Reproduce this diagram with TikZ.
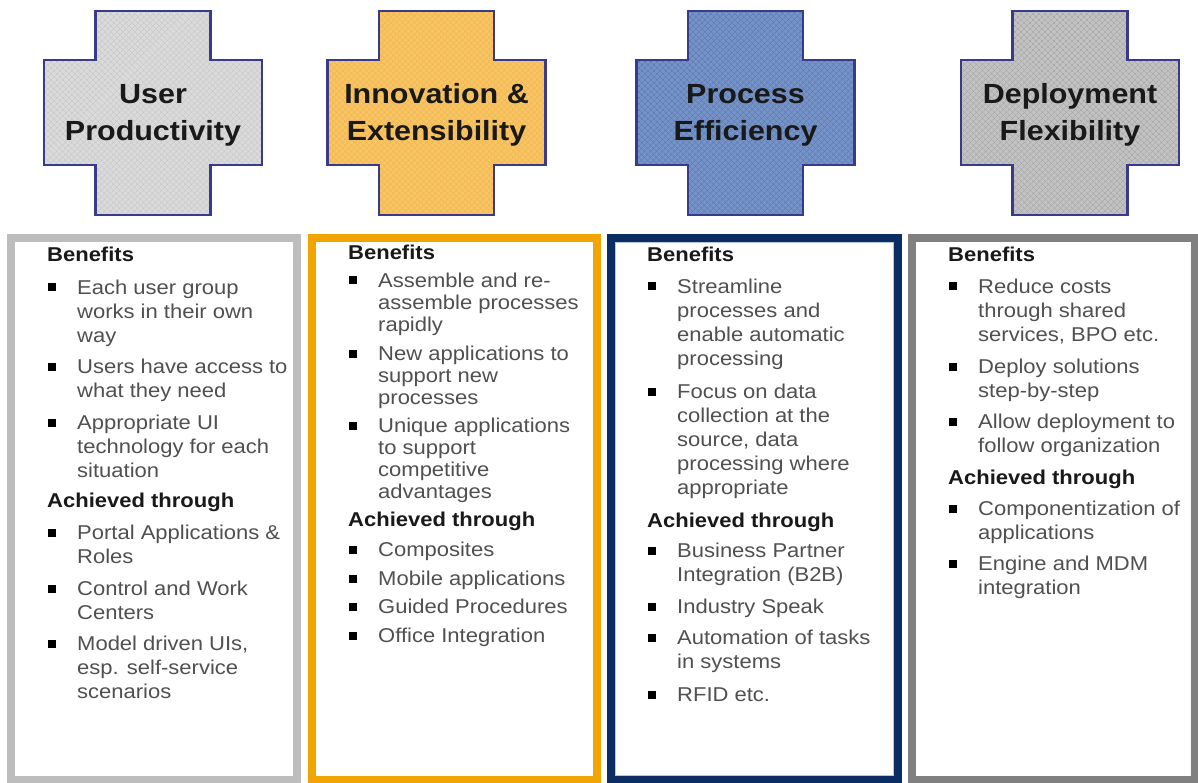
\documentclass[tikz,border=0pt]{standalone}
\usepackage{fontspec}
\setmainfont{Liberation Sans}[FakeStretch=1.1]
\usetikzlibrary{patterns.meta}

% cross fills and hatching
\definecolor{crossedge}{HTML}{3A3A8C}
\definecolor{fillA}{HTML}{DADADA}\definecolor{hatchA}{HTML}{C4C4C4}
\definecolor{fillB}{HTML}{F7C566}\definecolor{hatchB}{HTML}{EDB24A}
\definecolor{fillC}{HTML}{7593C6}\definecolor{hatchC}{HTML}{5977AF}
\definecolor{fillD}{HTML}{C2C2C2}\definecolor{hatchD}{HTML}{A3A3A3}
% panel frames
\definecolor{frameA}{HTML}{BDBDBD}
\definecolor{frameB}{HTML}{F2A500}
\definecolor{frameC}{HTML}{0B2D64}
\definecolor{frameCin}{HTML}{B4C6E2}
\definecolor{frameD}{HTML}{808080}
\definecolor{bodytext}{HTML}{505050}

\newcommand\lnstrut{\rule{0pt}{15pt}}
\newcommand\ttlstrut{\rule{0pt}{20pt}}

\begin{document}
\begin{tikzpicture}[x=1pt,y=-1pt,
  title/.style={anchor=north,align=center,inner sep=0pt,
    font=\fontsize{27.7}{37}\selectfont\bfseries,text=black!90},
  head/.style={anchor=north west,inner sep=0pt,
    font=\fontsize{20}{24}\selectfont\bfseries,text=black!90},
  itm/.style={anchor=north west,inner sep=0pt,align=left,
    font=\fontsize{20}{24}\selectfont,text=bodytext},
  itmB/.style={itm,font=\fontsize{20}{22}\selectfont},
  blt/.style={fill=black,draw=none,inner sep=0pt,minimum size=8pt},
  panel/.style={line width=8pt},
]
\useasboundingbox (0,0) rectangle (1198,783);
\fill[white] (0,0) rectangle (1198,783);

% the four crosses
\foreach \cx/\fc/\hc in {153/fillA/hatchA,436.5/fillB/hatchB,745.5/fillC/hatchC,1070/fillD/hatchD}{
  \path[preaction={fill=\fc},
        preaction={pattern={Lines[angle=45,distance=4pt,line width=0.6pt]},pattern color=\hc},
        preaction={pattern={Lines[angle=-45,distance=4pt,line width=0.6pt]},pattern color=\hc},
        draw=crossedge,line width=2.5pt,line join=miter]
    (\cx-57.5,11) -- (\cx+57.5,11) -- (\cx+57.5,60) -- (\cx+109,60) -- (\cx+109,165)
    -- (\cx+57.5,165) -- (\cx+57.5,215) -- (\cx-57.5,215) -- (\cx-57.5,165)
    -- (\cx-109,165) -- (\cx-109,60) -- (\cx-57.5,60) -- cycle;
}
\node[title] (t1) at (153,83)   {\ttlstrut User\\Productivity};
\node[title] (t2) at (436.5,83) {\ttlstrut Innovation \&\\Extensibility};
\node[title] (t3) at (745.5,83) {\ttlstrut Process\\Efficiency};
\node[title] (t4) at (1070,83)  {\ttlstrut Deployment\\Flexibility};

% panels
\draw[panel,draw=frameA] (11,238) rectangle (296.5,780);
\draw[panel,draw=frameB] (311.5,238) rectangle (597,780);
\draw[panel,draw=frameC] (611,238) rectangle (898,780);
\draw[line width=1pt,draw=frameCin] (615.5,242.5) rectangle (893.5,775.5);
\draw[panel,draw=frameD] (911.5,238) rectangle (1194.5,780);

% panel 1
\node[head] (h1a) at (47,246) {\lnstrut Benefits};
\node[blt] (b1a) at (52,287.5) {};
\node[itm] (i1a) at (77,279) {\lnstrut Each user group\\works in their own\\way};
\node[blt] (b1b) at (52,366.5) {};
\node[itm] (i1b) at (77,358) {\lnstrut Users have access to\\what they need};
\node[blt] (b1c) at (52,422.5) {};
\node[itm] (i1c) at (77,414) {\lnstrut Appropriate UI\\technology for each\\situation};
\node[head] (h1b) at (47,492) {\lnstrut Achieved through};
\node[blt] (b1d) at (52,532.5) {};
\node[itm] (i1d) at (77,524) {\lnstrut Portal Applications \&\\Roles};
\node[blt] (b1e) at (52,588.5) {};
\node[itm] (i1e) at (77,580) {\lnstrut Control and Work\\Centers};
\node[blt] (b1f) at (52,643.5) {};
\node[itm] (i1f) at (77,635) {\lnstrut Model driven UIs,\\esp. self-service\\scenarios};

% panel 2
\node[head] (h2a) at (348,244) {\lnstrut Benefits};
\node[blt] (b2a) at (353,280.5) {};
\node[itmB] (i2a) at (378,272) {\lnstrut Assemble and re-\\assemble processes\\rapidly};
\node[blt] (b2b) at (353,353.5) {};
\node[itmB] (i2b) at (378,345) {\lnstrut New applications to\\support new\\processes};
\node[blt] (b2c) at (353,425.5) {};
\node[itmB] (i2c) at (378,417) {\lnstrut Unique applications\\to support\\competitive\\advantages};
\node[head] (h2b) at (348,511) {\lnstrut Achieved through};
\node[blt] (b2d) at (353,549.5) {};
\node[itmB] (i2d) at (378,541) {\lnstrut Composites};
\node[blt] (b2e) at (353,578.5) {};
\node[itmB] (i2e) at (378,570) {\lnstrut Mobile applications};
\node[blt] (b2f) at (353,606.5) {};
\node[itmB] (i2f) at (378,598) {\lnstrut Guided Procedures};
\node[blt] (b2g) at (353,635.5) {};
\node[itmB] (i2g) at (378,627) {\lnstrut Office Integration};

% panel 3
\node[head] (h3a) at (647,246) {\lnstrut Benefits};
\node[blt] (b3a) at (652,286.5) {};
\node[itm] (i3a) at (677,278) {\lnstrut Streamline\\processes and\\enable automatic\\processing};
\node[blt] (b3b) at (652,391.5) {};
\node[itm] (i3b) at (677,383) {\lnstrut Focus on data\\collection at the\\source, data\\processing where\\appropriate};
\node[head] (h3b) at (647,512) {\lnstrut Achieved through};
\node[blt] (b3c) at (652,550.5) {};
\node[itm] (i3c) at (677,542) {\lnstrut Business Partner\\Integration (B2B)};
\node[blt] (b3d) at (652,606.5) {};
\node[itm] (i3d) at (677,598) {\lnstrut Industry Speak};
\node[blt] (b3e) at (652,637.5) {};
\node[itm] (i3e) at (677,629) {\lnstrut Automation of tasks\\in systems};
\node[blt] (b3f) at (652,694.5) {};
\node[itm] (i3f) at (677,686) {\lnstrut RFID etc.};

% panel 4
\node[head] (h4a) at (948,246.5) {\lnstrut Benefits};
\node[blt] (b4a) at (953,286.5) {};
\node[itm] (i4a) at (978,278) {\lnstrut Reduce costs\\through shared\\services, BPO etc.};
\node[blt] (b4b) at (953,366.5) {};
\node[itm] (i4b) at (978,358) {\lnstrut Deploy solutions\\step-by-step};
\node[blt] (b4c) at (953,421.5) {};
\node[itm] (i4c) at (978,413) {\lnstrut Allow deployment to\\follow organization};
\node[head] (h4b) at (948,469) {\lnstrut Achieved through};
\node[blt] (b4d) at (953,508.5) {};
\node[itm] (i4d) at (978,500) {\lnstrut Componentization of\\applications};
\node[blt] (b4e) at (953,563.5) {};
\node[itm] (i4e) at (978,555) {\lnstrut Engine and MDM\\integration};
\end{tikzpicture}
\end{document}
